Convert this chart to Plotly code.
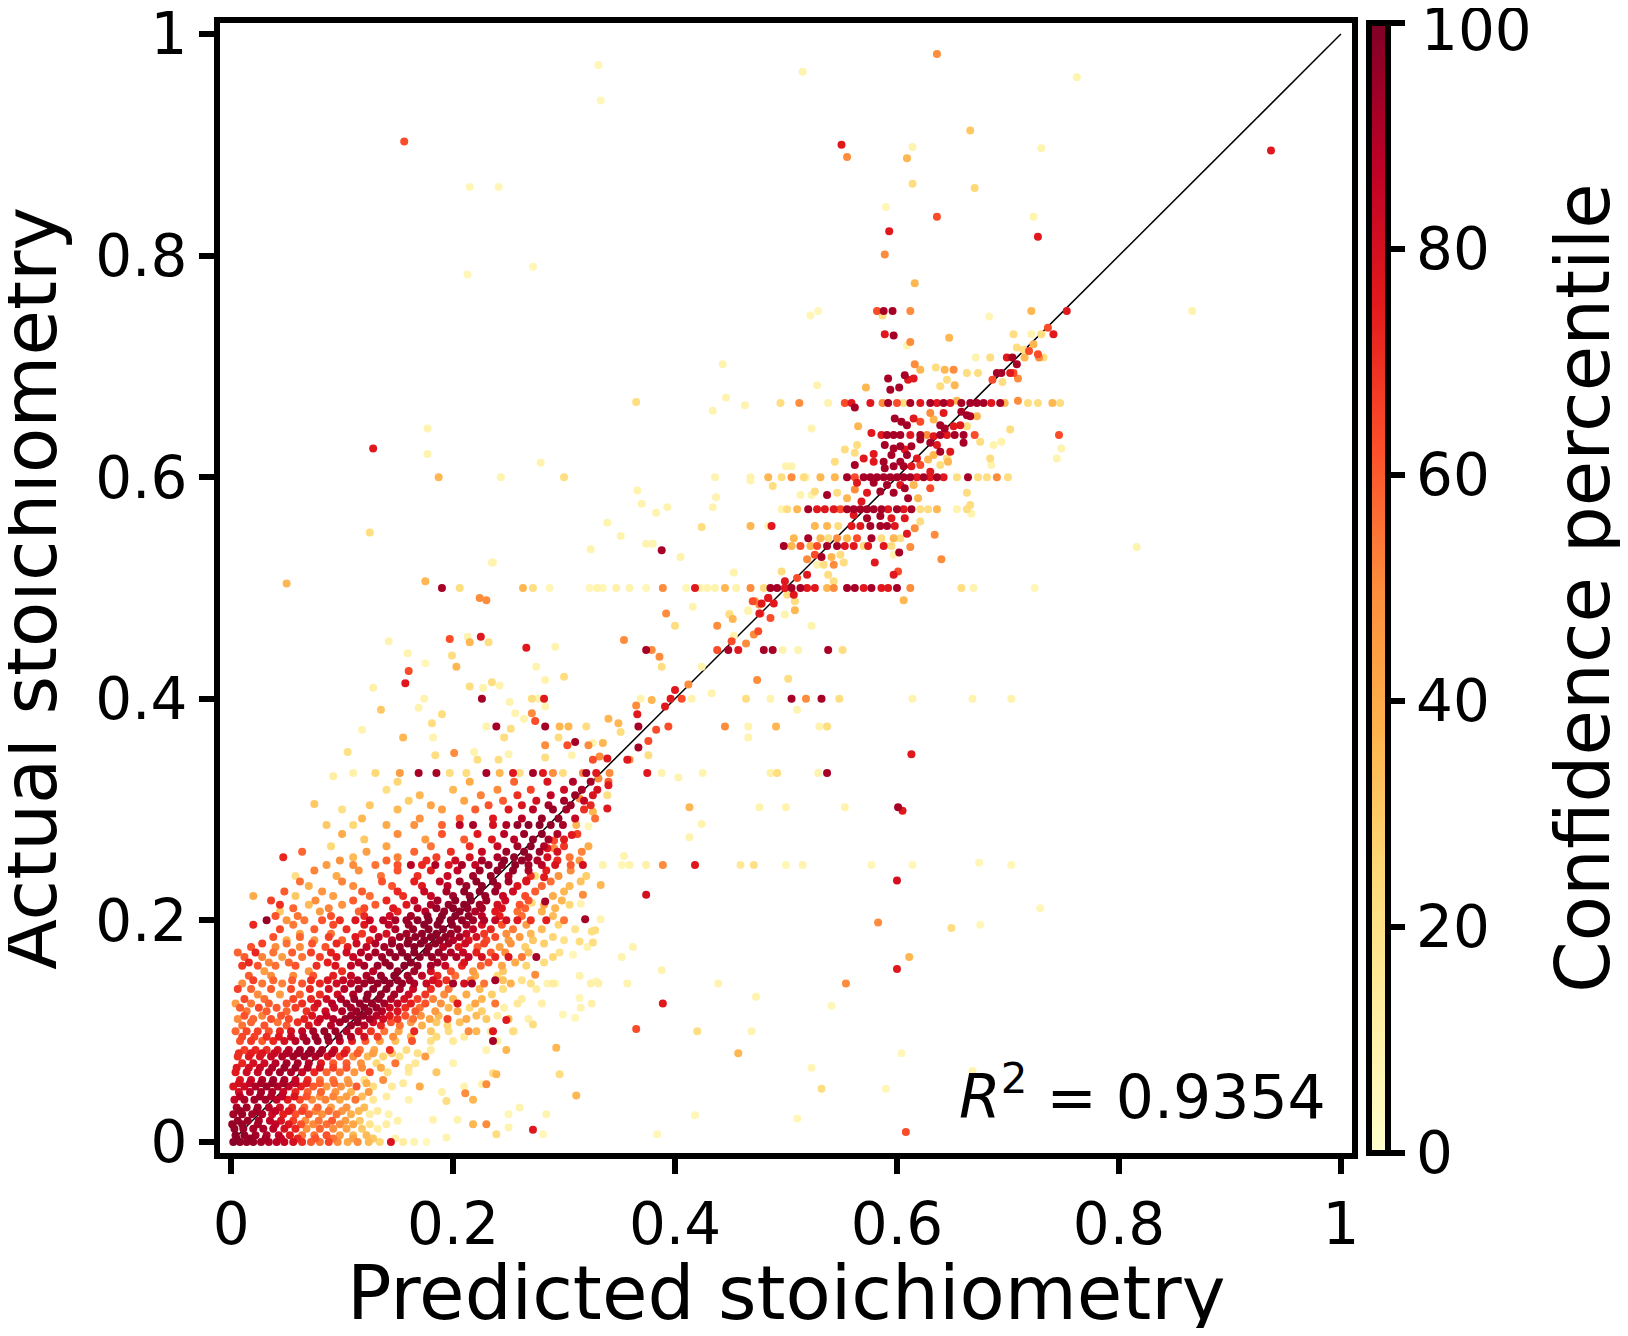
import numpy as np
import plotly.graph_objects as go

# Predicted vs actual stoichiometry, coloured by confidence percentile.
# Every point is (predicted, actual, confidence percentile).

# dense block at the origin, actual 0 - 0.1
origin_points = [
    (0.002,0,98),(0.008,0,96),(0.014,0,95),(0.020,0,94),(0.027,0,92),(0.034,0,90),(0.041,0,88),(0.048,0,85),(0.056,0,80),(0.064,0,70),(0.072,0,60),(0.080,0,55),(0.088,0,65),(0.096,0,50),(0.105,0,40),(0.114,0,50),(0.124,0,35),(0.134,0,25),(0.144,0,78),(0.155,0,12),(0.165,0,8),(0.176,0,5),
    (0.004,0.006,97),(0.012,0.006,95),(0.022,0.006,93),(0.032,0.006,90),(0.043,0.006,85),(0.053,0.006,75),(0.064,0.006,55),(0.075,0.006,55),(0.086,0.006,62),(0.098,0.006,45),(0.110,0.006,35),(0.122,0.006,35),
    (0.003,0.012,96),(0.011,0.012,94),(0.020,0.012,92),(0.029,0.012,91),(0.038,0.012,88),(0.048,0.012,80),(0.058,0.012,72),(0.068,0.012,48),(0.080,0.012,58),(0.092,0.012,50),(0.104,0.012,42),(0.118,0.012,30),(0.132,0.012,10),
    (0.006,0.019,95),(0.015,0.019,93),(0.025,0.019,90),(0.035,0.019,86),(0.045,0.019,78),(0.056,0.019,66),(0.067,0.019,50),(0.079,0.019,55),(0.091,0.019,60),(0.103,0.019,45),(0.116,0.019,30),(0.150,0.019,10),
    (0.002,0.025,93),(0.010,0.025,94),(0.019,0.025,92),(0.028,0.025,90),(0.037,0.025,82),(0.047,0.025,74),(0.058,0.025,62),(0.070,0.025,60),(0.082,0.025,48),(0.095,0.025,55),(0.108,0.025,38),(0.125,0.025,12),(0.142,0.025,8),
    (0.005,0.031,90),(0.014,0.031,93),(0.024,0.031,92),(0.034,0.031,88),(0.044,0.031,80),(0.055,0.031,70),(0.066,0.031,58),(0.078,0.031,58),(0.090,0.031,45),(0.104,0.031,48),(0.120,0.031,35),
    (0.003,0.038,85),(0.012,0.038,91),(0.021,0.038,93),(0.031,0.038,92),(0.041,0.038,86),(0.051,0.038,76),(0.062,0.038,64),(0.073,0.038,50),(0.085,0.038,52),(0.098,0.038,42),(0.112,0.038,55),(0.128,0.038,15),(0.160,0.038,8),
    (0.007,0.045,80),(0.017,0.045,88),(0.027,0.045,92),(0.037,0.045,90),(0.047,0.045,84),(0.058,0.045,72),(0.069,0.045,58),(0.081,0.045,58),(0.094,0.045,48),(0.108,0.045,36),(0.124,0.045,45),(0.190,0.045,10),
    (0.002,0.050,78),(0.012,0.050,82),(0.022,0.050,90),(0.032,0.050,93),(0.042,0.050,90),(0.052,0.050,86),(0.063,0.050,74),(0.074,0.050,60),(0.086,0.050,45),(0.099,0.050,48),(0.113,0.050,60),(0.128,0.050,22),(0.145,0.050,14),(0.170,0.050,40),(0.210,0.050,8),
    (0.008,0.056,76),(0.018,0.056,82),(0.028,0.056,88),(0.038,0.056,92),(0.048,0.056,90),(0.058,0.056,84),(0.069,0.056,70),(0.080,0.056,55),(0.092,0.056,55),(0.105,0.056,44),(0.120,0.056,18),(0.137,0.056,50),
    (0.004,0.063,75),(0.014,0.063,82),(0.024,0.063,84),(0.034,0.063,90),(0.044,0.063,93),(0.054,0.063,90),(0.064,0.063,84),(0.075,0.063,72),(0.086,0.063,58),(0.098,0.063,56),(0.111,0.063,46),(0.125,0.063,62),(0.141,0.063,20),(0.160,0.063,12),(0.185,0.063,30),
    (0.010,0.071,72),(0.020,0.071,80),(0.030,0.071,82),(0.040,0.071,88),(0.050,0.071,92),(0.060,0.071,92),(0.070,0.071,88),(0.081,0.071,76),(0.092,0.071,60),(0.104,0.071,60),(0.117,0.071,48),(0.131,0.071,24),(0.148,0.071,55),(0.166,0.071,15),(0.200,0.071,8),
    (0.006,0.077,70),(0.016,0.077,76),(0.026,0.077,78),(0.036,0.077,84),(0.046,0.077,90),(0.056,0.077,92),(0.066,0.077,93),(0.076,0.077,90),(0.087,0.077,80),(0.098,0.077,66),(0.110,0.077,50),(0.123,0.077,36),(0.137,0.077,26),(0.152,0.077,18),(0.175,0.077,45),
    (0.012,0.083,66),(0.022,0.083,72),(0.032,0.083,70),(0.042,0.083,80),(0.052,0.083,86),(0.062,0.083,92),(0.072,0.083,94),(0.082,0.083,92),(0.093,0.083,84),(0.104,0.083,70),(0.116,0.083,55),(0.129,0.083,40),(0.143,0.083,70),(0.158,0.083,22),(0.180,0.083,12),(0.230,0.083,8),
    (0.008,0.091,62),(0.018,0.091,68),(0.028,0.091,60),(0.038,0.091,72),(0.048,0.091,80),(0.058,0.091,88),(0.068,0.091,92),(0.078,0.091,95),(0.088,0.091,93),(0.098,0.091,86),(0.109,0.091,74),(0.121,0.091,60),(0.134,0.091,45),(0.148,0.091,32),(0.163,0.091,62),(0.180,0.091,20),(0.200,0.091,14),(0.240,0.091,10),
    (0.004,0.100,58),(0.014,0.100,64),(0.024,0.100,66),(0.034,0.100,62),(0.044,0.100,72),(0.054,0.100,80),(0.064,0.100,86),(0.074,0.100,92),(0.084,0.100,95),(0.094,0.100,94),(0.104,0.100,90),(0.115,0.100,80),(0.126,0.100,68),(0.138,0.100,55),(0.151,0.100,42),(0.165,0.100,72),(0.180,0.100,30),(0.196,0.100,22),(0.214,0.100,50),(0.234,0.100,14),(0.255,0.100,10),
]

# points sitting between the rows above
origin_fill_points = [
    (0.005,0.003,97),(0.017,0.003,95),(0.031,0.003,92),(0.045,0.003,86),(0.060,0.003,72),(0.076,0.003,62),(0.092,0.003,55),(0.110,0.003,44),(0.128,0.003,30),(0.148,0.003,10),
    (0.001,0.016,96),(0.010,0.016,95),(0.024,0.016,92),(0.040,0.016,86),(0.052,0.016,76),(0.063,0.016,62),(0.074,0.016,50),(0.086,0.016,56),(0.098,0.016,50),(0.110,0.016,42),(0.125,0.016,18),(0.140,0.016,12),
    (0.008,0.028,94),(0.023,0.028,93),(0.040,0.028,86),(0.052,0.028,76),(0.064,0.028,66),(0.076,0.028,52),(0.088,0.028,56),(0.100,0.028,46),(0.115,0.028,36),(0.132,0.028,14),
    (0.008,0.041,88),(0.026,0.041,92),(0.036,0.041,90),(0.046,0.041,86),(0.057,0.041,78),(0.068,0.041,62),(0.080,0.041,48),(0.092,0.041,52),(0.104,0.041,44),(0.118,0.041,34),(0.140,0.041,12),
    (0.007,0.053,80),(0.017,0.053,86),(0.027,0.053,92),(0.037,0.053,94),(0.047,0.053,92),(0.058,0.053,86),(0.068,0.053,74),(0.080,0.053,60),(0.093,0.053,58),(0.106,0.053,48),(0.122,0.053,38),(0.155,0.053,14),
    (0.005,0.067,76),(0.016,0.067,80),(0.026,0.067,84),(0.037,0.067,90),(0.048,0.067,94),(0.058,0.067,94),(0.069,0.067,90),(0.080,0.067,80),(0.092,0.067,66),(0.104,0.067,62),(0.118,0.067,50),(0.135,0.067,40),(0.160,0.067,16),
    (0.007,0.080,70),(0.018,0.080,74),(0.028,0.080,78),(0.039,0.080,84),(0.050,0.080,90),(0.060,0.080,94),(0.070,0.080,95),(0.080,0.080,94),(0.091,0.080,88),(0.102,0.080,76),(0.114,0.080,60),(0.128,0.080,44),(0.145,0.080,30),(0.168,0.080,20),
    (0.010,0.095,64),(0.021,0.095,66),(0.032,0.095,70),(0.043,0.095,76),(0.054,0.095,84),(0.065,0.095,90),(0.076,0.095,94),(0.087,0.095,96),(0.097,0.095,95),(0.108,0.095,90),(0.120,0.095,80),(0.132,0.095,66),(0.146,0.095,50),(0.162,0.095,36),(0.185,0.095,24),(0.210,0.095,14),
]

# main band along the diagonal, actual 0.1 - 0.34
band_points = [
    (0.010,0.105,55),(0.030,0.105,62),(0.050,0.105,60),(0.070,0.105,78),(0.090,0.105,88),(0.108,0.105,94),(0.120,0.105,88),(0.135,0.105,72),(0.152,0.105,55),(0.172,0.105,38),(0.195,0.105,25),
    (0.006,0.111,50),(0.020,0.111,58),(0.036,0.111,62),(0.052,0.111,64),(0.066,0.111,74),(0.080,0.111,84),(0.092,0.111,90),(0.103,0.111,95),(0.114,0.111,96),(0.125,0.111,92),(0.137,0.111,82),(0.150,0.111,70),(0.164,0.111,56),(0.179,0.111,42),(0.195,0.111,65),(0.212,0.111,40),(0.230,0.111,30),(0.250,0.111,35),(0.268,0.111,10),
    (0.014,0.118,55),(0.032,0.118,60),(0.050,0.118,58),(0.068,0.118,70),(0.085,0.118,82),(0.100,0.118,90),(0.113,0.118,94),(0.124,0.118,95),(0.136,0.118,90),(0.150,0.118,78),(0.166,0.118,60),(0.184,0.118,45),(0.204,0.118,40),(0.226,0.118,28),
    (0.004,0.125,45),(0.018,0.125,55),(0.034,0.125,60),(0.050,0.125,60),(0.064,0.125,70),(0.078,0.125,80),(0.091,0.125,88),(0.104,0.125,93),(0.116,0.125,96),(0.127,0.125,95),(0.138,0.125,92),(0.150,0.125,85),(0.162,0.125,74),(0.175,0.125,62),(0.189,0.125,48),(0.204,0.125,76),(0.220,0.125,42),(0.238,0.125,55),(0.258,0.125,15),(0.280,0.125,10),
    (0.024,0.133,50),(0.044,0.133,45),(0.062,0.133,58),(0.080,0.133,70),(0.096,0.133,82),(0.110,0.133,90),(0.123,0.133,95),(0.135,0.133,96),(0.147,0.133,92),(0.160,0.133,82),(0.175,0.133,68),(0.192,0.133,50),(0.212,0.133,40),(0.235,0.133,28),
    (0.010,0.143,50),(0.028,0.143,55),(0.046,0.143,52),(0.064,0.143,62),(0.080,0.143,72),(0.095,0.143,82),(0.108,0.143,88),(0.120,0.143,93),(0.132,0.143,96),(0.143,0.143,97),(0.154,0.143,95),(0.165,0.143,90),(0.176,0.143,84),(0.187,0.143,76),(0.200,0.143,92),(0.210,0.143,80),(0.217,0.143,92),(0.228,0.143,55),(0.238,0.146,92),(0.252,0.143,38),(0.270,0.143,20),(0.290,0.143,12),
    (0.016,0.150,60),(0.036,0.150,50),(0.056,0.150,50),(0.074,0.150,62),(0.092,0.150,74),(0.108,0.150,84),(0.122,0.150,90),(0.135,0.150,95),(0.147,0.150,97),(0.159,0.150,94),(0.172,0.150,86),(0.186,0.150,72),(0.202,0.150,56),(0.220,0.150,40),(0.240,0.150,25),
    (0.030,0.154,45),(0.070,0.154,48),(0.100,0.154,70),(0.128,0.154,88),(0.150,0.154,96),(0.165,0.154,93),(0.180,0.154,80),(0.198,0.154,62),(0.218,0.154,45),(0.245,0.154,30),
    (0.012,0.167,60),(0.028,0.167,52),(0.046,0.167,44),(0.064,0.167,55),(0.080,0.167,66),(0.095,0.167,76),(0.110,0.167,84),(0.124,0.167,90),(0.136,0.167,94),(0.148,0.167,96),(0.159,0.167,98),(0.170,0.167,97),(0.181,0.167,95),(0.192,0.167,92),(0.203,0.167,90),(0.214,0.167,86),(0.226,0.167,80),(0.238,0.167,72),(0.250,0.167,78),(0.262,0.167,55),(0.275,0.167,92),(0.290,0.167,25),
    (0.018,0.176,62),(0.040,0.176,50),(0.062,0.176,50),(0.085,0.176,62),(0.105,0.176,75),(0.122,0.176,85),(0.138,0.176,92),(0.152,0.176,96),(0.165,0.176,97),(0.178,0.176,95),(0.191,0.176,88),(0.205,0.176,76),(0.222,0.176,60),(0.242,0.176,44),(0.265,0.176,28),
    (0.050,0.182,40),(0.075,0.182,48),(0.100,0.182,58),(0.125,0.182,74),(0.145,0.182,88),(0.160,0.182,95),(0.174,0.182,97),(0.188,0.182,96),(0.200,0.182,90),(0.214,0.182,78),(0.230,0.182,64),(0.250,0.182,45),(0.272,0.182,30),(0.300,0.182,18),
    (0.062,0.188,42),(0.090,0.188,55),(0.118,0.188,68),(0.140,0.188,80),(0.158,0.188,92),(0.172,0.188,96),(0.185,0.188,97),(0.198,0.188,94),(0.212,0.188,84),(0.228,0.188,68),(0.248,0.188,50),(0.270,0.188,35),
    (0.032,0.200,95),(0.050,0.200,48),(0.066,0.200,55),(0.082,0.200,62),(0.098,0.200,70),(0.112,0.200,78),(0.125,0.200,84),(0.137,0.200,88),(0.148,0.200,92),(0.158,0.200,95),(0.168,0.200,97),(0.178,0.200,98),(0.188,0.200,98),(0.198,0.200,97),(0.208,0.200,96),(0.218,0.200,94),(0.228,0.200,90),(0.238,0.200,85),(0.248,0.200,80),(0.258,0.200,76),(0.270,0.200,70),(0.284,0.200,74),(0.300,0.200,55),
    (0.044,0.208,30),(0.080,0.208,45),(0.115,0.208,58),(0.150,0.208,72),(0.175,0.208,88),(0.192,0.208,96),(0.206,0.208,97),(0.220,0.208,90),(0.238,0.208,76),(0.258,0.208,56),(0.280,0.208,38),
    (0.044,0.214,70),(0.070,0.214,35),(0.100,0.214,48),(0.130,0.214,60),(0.158,0.214,76),(0.180,0.214,90),(0.196,0.214,95),(0.210,0.214,97),(0.224,0.214,93),(0.240,0.214,80),(0.260,0.214,62),(0.282,0.214,42),(0.305,0.214,25),
    (0.020,0.222,40),(0.058,0.222,30),(0.092,0.222,44),(0.125,0.222,56),(0.155,0.222,70),(0.180,0.222,84),(0.200,0.222,93),(0.215,0.222,97),(0.229,0.222,95),(0.245,0.222,84),(0.265,0.222,64),(0.290,0.222,40),
    (0.070,0.231,38),(0.110,0.231,50),(0.145,0.231,62),(0.172,0.231,76),(0.195,0.231,88),(0.212,0.231,94),(0.226,0.231,97),(0.240,0.231,92),(0.258,0.231,78),(0.280,0.231,58),(0.305,0.231,35),
    (0.058,0.240,20),(0.095,0.240,40),(0.135,0.240,55),(0.168,0.240,70),(0.195,0.240,84),(0.218,0.240,93),(0.234,0.240,96),(0.250,0.240,90),(0.270,0.240,70),(0.295,0.240,48),(0.320,0.240,28),
    (0.086,0.250,45),(0.110,0.250,50),(0.130,0.250,55),(0.150,0.250,62),(0.162,0.250,88),(0.172,0.250,72),(0.184,0.250,90),(0.196,0.250,78),(0.208,0.250,92),(0.220,0.250,85),(0.232,0.250,94),(0.244,0.250,96),(0.256,0.250,97),(0.268,0.250,92),(0.280,0.250,88),(0.292,0.250,78),(0.306,0.250,60),(0.317,0.250,80),
    (0.335,0.250,8),(0.352,0.250,6),(0.359,0.250,8),(0.374,0.250,10),(0.389,0.250,50),(0.418,0.250,76),(0.459,0.250,15),(0.471,0.250,20),(0.500,0.250,6),(0.515,0.250,8),
    (0.047,0.257,72),(0.110,0.257,35),(0.150,0.257,52),(0.185,0.257,66),(0.215,0.257,80),(0.240,0.257,90),(0.255,0.257,96),(0.268,0.257,94),(0.285,0.257,80),(0.305,0.257,55),
    (0.090,0.267,25),(0.140,0.267,42),(0.180,0.267,55),(0.215,0.267,70),(0.240,0.267,84),(0.258,0.267,93),(0.270,0.267,97),(0.282,0.267,90),(0.300,0.267,68),(0.322,0.267,40),
    (0.120,0.273,30),(0.175,0.273,45),(0.210,0.273,60),(0.235,0.273,76),(0.255,0.273,88),(0.272,0.273,96),(0.286,0.273,92),(0.300,0.273,75),
    (0.086,0.286,30),(0.110,0.286,25),(0.140,0.286,40),(0.165,0.286,48),(0.190,0.286,58),(0.206,0.286,88),(0.218,0.286,92),(0.236,0.286,80),(0.248,0.286,90),(0.258,0.286,95),(0.268,0.286,97),(0.278,0.286,98),(0.288,0.286,96),(0.299,0.286,92),(0.311,0.286,36),(0.322,0.285,6),
    (0.100,0.300,20),(0.150,0.300,35),(0.190,0.300,45),(0.220,0.300,60),(0.250,0.300,76),(0.272,0.300,88),(0.290,0.300,95),(0.302,0.300,92),(0.318,0.300,70),
    (0.160,0.308,28),(0.210,0.308,42),(0.245,0.308,60),(0.275,0.308,80),(0.300,0.308,93),(0.318,0.308,85),
    (0.140,0.318,20),(0.200,0.318,35),(0.240,0.318,50),(0.270,0.318,65),(0.300,0.318,82),(0.316,0.318,92),(0.330,0.318,80),
    (0.110,0.333,10),(0.130,0.333,25),(0.152,0.333,45),(0.169,0.333,92),(0.185,0.333,92),(0.197,0.333,22),(0.212,0.333,22),(0.230,0.333,92),(0.242,0.333,36),(0.254,0.333,76),(0.260,0.333,22),(0.272,0.333,92),(0.281,0.333,76),(0.290,0.333,50),(0.299,0.333,22),(0.317,0.333,50),(0.320,0.333,92),(0.329,0.333,76),(0.341,0.333,50),(0.375,0.333,76),(0.388,0.333,8),(0.425,0.333,8),(0.486,0.333,10),(0.492,0.333,22),(0.529,0.333,8),(0.537,0.333,92),
]

# points sitting between the band rows
band_fill_points = [
    (0.018,0.108,58),(0.042,0.108,55),(0.060,0.108,70),(0.078,0.108,80),(0.098,0.108,92),(0.114,0.108,95),(0.128,0.108,82),(0.144,0.108,62),(0.162,0.108,45),(0.185,0.108,30),(0.206,0.108,32),
    (0.012,0.114,62),(0.028,0.114,52),(0.045,0.114,62),(0.073,0.114,78),(0.086,0.114,86),(0.108,0.114,94),(0.119,0.114,96),(0.131,0.114,88),(0.143,0.114,76),(0.157,0.114,62),(0.171,0.114,48),(0.187,0.114,35),(0.221,0.114,34),(0.240,0.114,12),
    (0.008,0.121,60),(0.025,0.121,64),(0.041,0.121,60),(0.058,0.121,66),(0.075,0.121,76),(0.093,0.121,86),(0.108,0.121,93),(0.120,0.121,96),(0.131,0.121,94),(0.143,0.121,84),(0.157,0.121,70),(0.170,0.121,55),(0.196,0.121,36),(0.215,0.121,24),(0.246,0.121,10),
    (0.012,0.129,64),(0.030,0.129,56),(0.056,0.129,64),(0.072,0.129,72),(0.086,0.129,82),(0.099,0.129,90),(0.111,0.129,95),(0.122,0.129,96),(0.133,0.129,95),(0.144,0.129,90),(0.156,0.129,80),(0.168,0.129,66),(0.182,0.129,52),(0.200,0.129,38),(0.226,0.129,36),(0.262,0.129,12),
    (0.006,0.138,66),(0.018,0.138,58),(0.036,0.138,60),(0.054,0.138,64),(0.071,0.138,72),(0.088,0.138,80),(0.102,0.138,88),(0.115,0.138,93),(0.128,0.138,96),(0.140,0.138,96),(0.152,0.138,92),(0.164,0.138,84),(0.180,0.138,70),(0.196,0.138,55),(0.224,0.138,36),(0.245,0.138,22),(0.275,0.138,12),
    (0.020,0.146,66),(0.038,0.146,58),(0.055,0.146,60),(0.072,0.146,70),(0.087,0.146,78),(0.101,0.146,85),(0.114,0.146,91),(0.126,0.146,95),(0.138,0.146,97),(0.150,0.146,96),(0.161,0.146,92),(0.182,0.146,80),(0.194,0.146,70),(0.216,0.146,50),(0.245,0.146,32),(0.262,0.146,18),
    (0.010,0.159,68),(0.024,0.159,62),(0.040,0.159,56),(0.058,0.159,62),(0.077,0.159,70),(0.094,0.159,78),(0.108,0.159,86),(0.120,0.159,92),(0.132,0.159,95),(0.143,0.159,97),(0.156,0.159,98),(0.168,0.159,96),(0.180,0.159,92),(0.193,0.159,84),(0.208,0.159,72),(0.225,0.159,58),(0.244,0.159,42),(0.266,0.159,26),
    (0.016,0.162,72),(0.034,0.162,52),(0.052,0.162,58),(0.087,0.162,74),(0.115,0.162,88),(0.139,0.162,96),(0.162,0.162,98),(0.186,0.162,92),(0.210,0.162,78),(0.232,0.162,62),(0.256,0.162,40),(0.282,0.162,22),
    (0.006,0.171,58),(0.022,0.171,72),(0.038,0.171,55),(0.055,0.171,60),(0.072,0.171,66),(0.090,0.171,74),(0.104,0.171,82),(0.117,0.171,88),(0.130,0.171,92),(0.143,0.171,95),(0.154,0.171,97),(0.165,0.171,98),(0.176,0.171,97),(0.187,0.171,95),(0.198,0.171,90),(0.209,0.171,84),(0.221,0.171,74),(0.234,0.171,62),(0.247,0.171,50),(0.268,0.171,34),(0.296,0.171,18),
    (0.028,0.179,66),(0.050,0.179,56),(0.073,0.179,62),(0.095,0.179,72),(0.113,0.179,82),(0.130,0.179,90),(0.145,0.179,95),(0.159,0.179,97),(0.171,0.179,98),(0.184,0.179,97),(0.196,0.179,92),(0.211,0.179,82),(0.228,0.179,66),(0.252,0.179,48),(0.282,0.179,28),
    (0.038,0.185,62),(0.062,0.185,58),(0.088,0.185,66),(0.112,0.185,76),(0.133,0.185,86),(0.152,0.185,94),(0.166,0.185,97),(0.180,0.185,98),(0.193,0.185,97),(0.206,0.185,92),(0.221,0.185,80),(0.238,0.185,64),(0.260,0.185,46),(0.290,0.185,26),
    (0.044,0.192,64),(0.075,0.192,60),(0.104,0.192,70),(0.128,0.192,80),(0.148,0.192,90),(0.164,0.192,95),(0.178,0.192,98),(0.191,0.192,98),(0.204,0.192,95),(0.218,0.192,86),(0.234,0.192,72),(0.254,0.192,54),(0.280,0.192,34),(0.310,0.192,18),
    (0.020,0.196,72),(0.056,0.196,54),(0.092,0.196,64),(0.120,0.196,76),(0.142,0.196,86),(0.160,0.196,94),(0.174,0.196,97),(0.186,0.196,98),(0.199,0.196,97),(0.212,0.196,92),(0.226,0.196,80),(0.244,0.196,62),(0.266,0.196,44),(0.295,0.196,26),
    (0.040,0.204,62),(0.060,0.204,55),(0.090,0.204,62),(0.120,0.204,72),(0.143,0.204,82),(0.162,0.204,92),(0.177,0.204,96),(0.190,0.204,98),(0.202,0.204,98),(0.214,0.204,95),(0.226,0.204,88),(0.242,0.204,74),(0.262,0.204,56),(0.290,0.204,34),
    (0.056,0.211,58),(0.088,0.211,52),(0.120,0.211,64),(0.146,0.211,76),(0.168,0.211,88),(0.185,0.211,95),(0.200,0.211,98),(0.213,0.211,97),(0.226,0.211,92),(0.244,0.211,78),(0.265,0.211,58),(0.292,0.211,36),
    (0.036,0.218,66),(0.076,0.218,50),(0.110,0.218,60),(0.140,0.218,72),(0.165,0.218,84),(0.186,0.218,93),(0.202,0.218,97),(0.216,0.218,98),(0.230,0.218,94),(0.247,0.218,82),(0.268,0.218,62),(0.298,0.218,36),
    (0.048,0.226,60),(0.082,0.226,48),(0.118,0.226,60),(0.150,0.226,72),(0.174,0.226,84),(0.194,0.226,92),(0.210,0.226,97),(0.224,0.226,98),(0.238,0.226,94),(0.254,0.226,82),(0.274,0.226,60),(0.300,0.226,36),
    (0.062,0.235,56),(0.100,0.235,52),(0.136,0.235,62),(0.165,0.235,74),(0.188,0.235,86),(0.206,0.235,93),(0.221,0.235,97),(0.236,0.235,97),(0.250,0.235,92),(0.266,0.235,78),(0.288,0.235,56),(0.315,0.235,32),
    (0.075,0.245,52),(0.115,0.245,48),(0.150,0.245,62),(0.180,0.245,74),(0.204,0.245,86),(0.224,0.245,94),(0.240,0.245,97),(0.254,0.245,96),(0.268,0.245,90),(0.284,0.245,74),(0.306,0.245,50),
    (0.098,0.254,48),(0.140,0.254,58),(0.176,0.254,70),(0.202,0.254,82),(0.226,0.254,92),(0.246,0.254,97),(0.262,0.254,96),(0.276,0.254,90),(0.294,0.254,72),(0.314,0.254,46),
    (0.064,0.262,58),(0.122,0.262,44),(0.165,0.262,58),(0.198,0.262,70),(0.226,0.262,84),(0.248,0.262,93),(0.264,0.262,97),(0.278,0.262,94),(0.294,0.262,80),(0.316,0.262,52),
    (0.100,0.278,40),(0.150,0.278,50),(0.190,0.278,62),(0.222,0.278,76),(0.246,0.278,88),(0.264,0.278,95),(0.280,0.278,97),(0.294,0.278,90),(0.312,0.278,66),
    (0.118,0.292,36),(0.170,0.292,48),(0.206,0.292,60),(0.236,0.292,76),(0.262,0.292,88),(0.280,0.292,95),(0.295,0.292,96),(0.310,0.292,84),(0.328,0.292,56),
    (0.125,0.304,30),(0.180,0.304,42),(0.232,0.304,62),(0.262,0.304,78),(0.286,0.304,92),(0.306,0.304,94),(0.324,0.304,72),
    (0.170,0.313,36),(0.225,0.313,52),(0.258,0.313,70),(0.288,0.313,86),(0.310,0.313,95),(0.326,0.313,78),
    (0.150,0.325,26),(0.215,0.325,40),(0.255,0.325,58),(0.285,0.325,78),(0.308,0.325,90),(0.324,0.325,92),(0.340,0.325,60),
]

# loose points round the lower end of the band
fringe_points = [
    (0.272,0.011,76),(0.281,0.007,6),(0.239,0.007,22),(0.250,0.013,8),(0.230,0.016,50),(0.218,0.016,36),(0.204,0.020,8),(0.194,0.004,8),(0.182,0.020,8),
    (0.311,0.042,36),(0.296,0.061,22),(0.250,0.025,6),(0.260,0.031,8),(0.284,0.025,8),(0.239,0.061,36),(0.226,0.052,8),(0.218,0.038,36),(0.211,0.044,50),(0.194,0.037,22),(0.236,0.062,22),(0.230,0.052,50),
    (0.248,0.083,36),(0.236,0.091,92),(0.236,0.100,76),(0.221,0.100,36),(0.254,0.100,22),(0.248,0.110,76),(0.272,0.106,22),(0.293,0.085,36),(0.310,0.112,6),(0.299,0.115,6),(0.314,0.130,6),(0.329,0.145,6),
    (0.292,0.143,6),(0.274,0.151,50),(0.285,0.143,8),(0.308,0.169,6),(0.326,0.180,22),(0.314,0.181,22),(0.325,0.190,22),
    (0.075,0.305,30),(0.092,0.330,12),(0.105,0.352,20),(0.118,0.372,8),(0.135,0.390,30),(0.128,0.410,10),(0.142,0.452,8),
]

# between the two clusters, actual 0.2 - 0.53
middle_points = [
    (0.190,0.5,92),(0.206,0.5,22),(0.263,0.5,36),(0.272,0.5,22),(0.287,0.5,6),(0.323,0.5,6),(0.330,0.5,8),(0.335,0.5,6),(0.347,0.5,10),(0.359,0.5,8),(0.374,0.5,6),(0.389,0.5,50),(0.410,0.5,6),(0.418,0.5,76),
    (0.175,0.506,36),(0.236,0.523,6),(0.224,0.491,50),(0.230,0.489,50),
    (0.197,0.454,63),(0.215,0.451,36),(0.225,0.456,76),(0.232,0.451,22),(0.213,0.456,8),(0.266,0.446,76),(0.292,0.447,8),
    (0.159,0.441,8),(0.199,0.439,22),(0.203,0.429,36),(0.175,0.432,6),(0.160,0.425,63),(0.157,0.414,76),
    (0.275,0.429,8),(0.300,0.420,22),(0.283,0.417,8),(0.215,0.411,22),(0.227,0.410,8),(0.235,0.415,22),(0.242,0.412,8),
    (0.226,0.400,92),(0.282,0.400,76),(0.271,0.400,22),(0.277,0.400,8),(0.174,0.400,8),(0.169,0.392,8),(0.251,0.397,8),(0.283,0.393,8),
    (0.190,0.386,22),(0.181,0.378,22),(0.239,0.375,92),(0.230,0.375,8),(0.271,0.387,50),(0.274,0.380,63),(0.283,0.375,92),(0.296,0.375,36),(0.304,0.375,36),(0.256,0.387,8),(0.264,0.382,8),
    (0.155,0.365,36),(0.182,0.365,8),(0.252,0.373,22),(0.246,0.365,22),
    (0.201,0.351,50),(0.184,0.349,22),(0.219,0.352,8),(0.222,0.345,22),(0.241,0.345,22),(0.250,0.350,8),
    (0.283,0.358,50),(0.283,0.347,22),(0.295,0.365,22),(0.303,0.358,63),(0.307,0.349,8),(0.310,0.361,92),
    (0.320,0.375,22),(0.326,0.360,8),(0.335,0.360,36),(0.322,0.358,50),(0.340,0.382,36),
    (0.326,0.345,63),(0.332,0.348,50),(0.339,0.346,76),(0.357,0.345,76),(0.359,0.345,50),
    (0.340,0.322,76),(0.331,0.328,50),(0.339,0.313,22),(0.314,0.310,50),(0.326,0.298,36),(0.339,0.301,76),
    (0.349,0.378,36),(0.351,0.370,22),(0.367,0.375,92),(0.367,0.356,92),(0.366,0.386,76),(0.365,0.394,50),(0.376,0.362,63),(0.383,0.372,63),(0.376,0.349,22),(0.379,0.399,36),(0.369,0.400,8),
    (0.391,0.393,76),(0.394,0.375,63),(0.396,0.400,76),(0.400,0.408,76),(0.406,0.400,63),(0.412,0.413,50),(0.415,0.400,8),
    (0.388,0.429,22),(0.386,0.438,50),(0.374,0.444,92),(0.379,0.444,50),(0.354,0.453,50),(0.392,0.477,50),(0.400,0.466,22),
    (0.416,0.483,8),(0.424,0.429,8),(0.433,0.405,8),
    (0.438,0.466,50),(0.448,0.444,92),(0.438,0.444,63),(0.457,0.444,76),(0.464,0.450,50),(0.451,0.452,63),(0.453,0.457,8),(0.449,0.476,22),(0.452,0.472,36),(0.466,0.480,8),
    (0.474,0.417,50),(0.464,0.400,22),
    (0.470,0.488,63),(0.476,0.485,50),(0.477,0.477,63),(0.484,0.491,76),(0.489,0.486,76),(0.486,0.473,63),(0.475,0.461,63),(0.471,0.458,50),
    (0.480,0.444,92),(0.488,0.444,92),(0.497,0.444,8),(0.511,0.444,8),(0.538,0.444,92),(0.551,0.444,22),
    (0.499,0.476,8),(0.508,0.480,36),(0.523,0.466,8),
    (0.505,0.400,92),(0.518,0.400,50),(0.532,0.400,92),(0.486,0.400,8),(0.548,0.400,22),(0.502,0.418,22),(0.510,0.390,8),
    (0.445,0.375,50),(0.466,0.375,8),(0.491,0.375,36),(0.530,0.375,8),(0.537,0.375,22),(0.466,0.365,8),(0.403,0.329,8),
    (0.413,0.302,36),(0.476,0.302,8),(0.500,0.302,8),(0.553,0.302,8),(0.424,0.287,8),(0.413,0.275,8),(0.354,0.258,8),
    (0.283,0.217,92),(0.271,0.216,22),(0.282,0.239,76),(0.266,0.236,76),(0.274,0.240,22),
    (0.307,0.277,76),(0.291,0.272,63),(0.291,0.265,50),(0.285,0.265,76),
]

# upper cluster, actual 0.5 - 0.75
upper_points = [
    (0.582,0.75,63),(0.588,0.75,92),(0.596,0.75,92),(0.612,0.75,50),(0.587,0.746,22),(0.522,0.746,6),(0.529,0.75,6),(0.683,0.745,6),(0.721,0.75,36),(0.753,0.75,76),
    (0.589,0.729,76),(0.597,0.728,92),(0.612,0.722,50),(0.609,0.719,8),(0.647,0.726,36),
    (0.736,0.735,63),(0.741,0.729,76),(0.705,0.729,22),(0.721,0.729,8),(0.730,0.729,22),
    (0.723,0.720,36),(0.714,0.715,22),(0.719,0.714,63),(0.727,0.711,63),(0.728,0.708,50),(0.732,0.708,22),(0.708,0.717,22),
    (0.699,0.708,76),(0.704,0.708,92),(0.708,0.702,92),(0.715,0.708,36),(0.671,0.708,8),(0.684,0.708,22),(0.616,0.702,50),
    (0.635,0.699,22),(0.643,0.697,36),(0.651,0.697,50),(0.621,0.697,36),(0.663,0.694,22),(0.673,0.694,22),(0.686,0.688,63),(0.690,0.694,92),(0.694,0.694,92),(0.702,0.694,76),(0.705,0.694,63),(0.709,0.689,50),(0.695,0.686,22),
    (0.592,0.689,92),(0.607,0.692,92),(0.610,0.688,76),(0.615,0.689,76),(0.594,0.679,92),(0.602,0.681,92),
    (0.639,0.682,22),(0.645,0.688,22),(0.652,0.683,36),(0.572,0.681,36),(0.528,0.683,8),
    (0.443,0.702,8),(0.446,0.672,8),(0.463,0.665,8),(0.434,0.660,8),
    (0.495,0.667,22),(0.512,0.667,50),(0.538,0.667,8),(0.553,0.667,63),(0.559,0.667,76),(0.562,0.663,92),(0.576,0.667,76),(0.587,0.667,50),(0.592,0.667,92),(0.600,0.667,63),(0.606,0.667,22),(0.612,0.667,92),(0.621,0.667,76),(0.630,0.667,92),(0.636,0.667,76),(0.642,0.667,92),(0.648,0.667,76),(0.654,0.669,36),(0.658,0.667,92),(0.666,0.667,92),(0.672,0.667,92),(0.678,0.667,92),(0.685,0.667,76),(0.693,0.667,92),(0.697,0.667,36),(0.709,0.669,50),(0.718,0.667,22),(0.727,0.667,22),(0.740,0.667,36),(0.747,0.667,22),
    (0.746,0.638,63),(0.748,0.626,8),(0.744,0.617,8),
    (0.598,0.653,92),(0.604,0.650,92),(0.609,0.647,92),(0.615,0.653,76),(0.621,0.650,63),(0.630,0.658,50),(0.633,0.652,36),(0.639,0.647,92),(0.643,0.644,92),(0.642,0.658,76),(0.651,0.646,76),(0.658,0.659,92),(0.663,0.656,92),(0.666,0.655,92),(0.672,0.655,36),(0.657,0.647,76),(0.652,0.638,92),(0.660,0.638,92),(0.663,0.646,22),(0.670,0.638,63),(0.660,0.631,92),(0.675,0.632,22),(0.684,0.617,22),(0.687,0.629,8),(0.694,0.632,8),(0.702,0.643,22),(0.685,0.611,8),
    (0.565,0.646,36),(0.577,0.640,76),(0.586,0.638,76),(0.591,0.638,92),(0.597,0.638,92),(0.603,0.638,92),(0.612,0.638,76),(0.621,0.638,92),(0.627,0.638,50),(0.633,0.637,76),(0.645,0.638,76),(0.639,0.638,92),
    (0.564,0.629,22),(0.589,0.629,92),(0.597,0.626,92),(0.603,0.628,92),(0.607,0.625,76),(0.613,0.628,92),(0.621,0.634,92),(0.630,0.631,92),(0.636,0.629,76),(0.639,0.623,92),(0.648,0.623,76),
    (0.553,0.625,22),(0.562,0.622,22),(0.570,0.617,76),(0.579,0.621,76),(0.588,0.614,92),(0.595,0.620,92),(0.603,0.614,92),(0.609,0.620,92),(0.618,0.617,76),(0.628,0.616,36),(0.633,0.620,36),(0.646,0.614,36),
    (0.544,0.614,22),(0.562,0.611,92),(0.579,0.614,76),(0.589,0.608,92),(0.597,0.610,92),(0.606,0.610,92),(0.613,0.610,76),(0.621,0.611,63),(0.630,0.605,76),(0.645,0.617,22),(0.639,0.611,22),
    (0.500,0.610,8),(0.505,0.610,8),
    (0.436,0.6,8),(0.468,0.6,8),(0.484,0.6,36),(0.496,0.6,22),(0.505,0.6,50),(0.516,0.6,22),(0.531,0.6,36),(0.544,0.6,36),(0.555,0.6,92),(0.562,0.6,63),(0.570,0.6,92),(0.576,0.6,92),(0.582,0.6,92),(0.588,0.6,92),(0.594,0.6,92),(0.600,0.6,92),(0.606,0.6,92),(0.612,0.6,92),(0.618,0.6,76),(0.624,0.6,92),(0.630,0.6,76),(0.636,0.6,92),(0.642,0.6,76),(0.654,0.6,22),(0.664,0.6,92),(0.673,0.6,22),(0.681,0.6,22),(0.690,0.6,50),(0.700,0.6,22),
    (0.468,0.597,8),
    (0.564,0.595,76),(0.579,0.595,92),(0.591,0.593,92),(0.603,0.593,76),(0.615,0.593,36),(0.630,0.590,63),(0.573,0.586,76),(0.585,0.587,92),(0.597,0.586,92),(0.610,0.581,92),(0.619,0.581,36),(0.607,0.590,92),
    (0.537,0.584,92),(0.546,0.586,22),(0.555,0.581,36),(0.562,0.589,50),(0.568,0.578,76),
    (0.526,0.587,22),(0.513,0.584,8),(0.488,0.592,22),(0.437,0.582,8),(0.434,0.573,8),
    (0.663,0.586,22),(0.666,0.575,22),(0.667,0.567,8),
    (0.496,0.571,8),(0.501,0.571,22),(0.510,0.571,36),(0.520,0.571,92),(0.528,0.571,76),(0.535,0.571,76),(0.543,0.571,76),(0.549,0.571,63),(0.555,0.571,92),(0.561,0.571,92),(0.567,0.571,92),(0.573,0.571,92),(0.579,0.571,92),(0.586,0.571,92),(0.592,0.571,76),(0.600,0.571,92),(0.606,0.571,76),(0.613,0.571,92),(0.621,0.571,22),(0.628,0.571,22),(0.636,0.571,36),(0.654,0.571,8),(0.663,0.571,22),
    (0.468,0.556,36),(0.484,0.556,8),(0.487,0.556,76),(0.526,0.556,36),(0.537,0.556,36),(0.547,0.556,22),(0.559,0.556,76),(0.567,0.556,76),(0.576,0.556,92),(0.585,0.556,92),(0.591,0.556,92),(0.598,0.556,76),(0.607,0.563,76),(0.616,0.554,50),(0.621,0.560,22),
    (0.561,0.566,76),(0.573,0.563,92),(0.585,0.565,92),(0.595,0.563,76),
    (0.507,0.545,36),(0.520,0.545,92),(0.531,0.545,36),(0.538,0.545,22),(0.546,0.545,50),(0.555,0.545,36),(0.564,0.545,63),(0.577,0.545,92),(0.586,0.545,22),(0.597,0.545,36),(0.603,0.545,22),(0.609,0.549,76),(0.634,0.548,50),
    (0.498,0.538,92),(0.505,0.538,36),(0.513,0.538,63),(0.522,0.538,36),(0.528,0.538,63),(0.537,0.538,92),(0.546,0.538,92),(0.553,0.538,76),(0.561,0.538,76),(0.570,0.538,22),(0.574,0.538,76),(0.588,0.538,76),(0.595,0.538,22),
    (0.526,0.530,63),(0.532,0.528,92),(0.541,0.528,36),(0.549,0.530,22),(0.552,0.523,22),(0.543,0.521,50),(0.534,0.521,22),(0.519,0.526,50),(0.528,0.521,8),
    (0.580,0.523,76),(0.597,0.512,76),(0.602,0.532,92),(0.601,0.515,63),(0.597,0.530,8),(0.612,0.537,50),(0.640,0.526,50),
    (0.519,0.512,76),(0.510,0.509,63),(0.538,0.512,22),(0.543,0.506,22),(0.496,0.515,22),(0.453,0.514,8),
    (0.4225,0.5,8),(0.429,0.5,8),(0.436,0.5,8),(0.445,0.5,36),(0.455,0.5,8),(0.468,0.5,50),(0.480,0.5,22),(0.486,0.5,92),(0.492,0.5,92),(0.499,0.5,76),(0.505,0.5,92),(0.513,0.5,92),(0.519,0.5,76),(0.526,0.5,76),(0.537,0.5,36),(0.543,0.5,50),(0.555,0.5,92),(0.562,0.5,92),(0.570,0.5,76),(0.577,0.5,92),(0.586,0.5,76),(0.592,0.5,76),(0.600,0.5,92),(0.612,0.5,50),(0.658,0.5,22),(0.669,0.5,8),(0.724,0.5,6),
    (0.499,0.506,76),(0.507,0.494,76),(0.484,0.491,76),(0.478,0.486,76),(0.472,0.488,50),(0.476,0.477,76),(0.466,0.479,8),(0.449,0.477,8),(0.508,0.488,22),(0.501,0.494,22),(0.606,0.489,36),
]

# scattered points away from the diagonal
stray_points = [
    (0.550,0.900,76),(0.555,0.889,50),(0.614,0.898,8),(0.609,0.888,36),(0.636,0.982,50),(0.762,0.961,8),(0.515,0.966,8),(0.666,0.913,30),(0.730,0.897,8),(0.614,0.865,22),(0.670,0.861,25),(0.590,0.844,6),(0.636,0.835,63),(0.723,0.835,8),(0.593,0.822,76),(0.727,0.817,76),(0.589,0.801,50),(0.616,0.775,36),
    (0.331,0.972,6),(0.333,0.940,6),(0.156,0.903,63),(0.215,0.862,6),(0.241,0.862,6),(0.213,0.783,6),(0.272,0.790,6),(0.937,0.895,76),(0.866,0.750,8),(0.816,0.537,8),
    (0.365,0.668,22),(0.523,0.644,8),(0.177,0.644,8),(0.177,0.621,8),(0.128,0.626,76),(0.279,0.613,8),(0.187,0.600,36),(0.243,0.600,8),(0.300,0.600,22),(0.518,0.600,8),
    (0.366,0.588,8),(0.370,0.576,8),(0.523,0.584,8),(0.393,0.573,8),(0.383,0.568,8),(0.339,0.559,8),(0.424,0.555,22),(0.351,0.547,8),(0.374,0.540,8),(0.380,0.540,8),(0.388,0.534,92),(0.324,0.535,8),(0.405,0.528,8),
    (0.125,0.550,22),(0.235,0.523,8),(0.050,0.504,36),
    (0.614,0.400,8),(0.668,0.400,8),(0.703,0.400,8),(0.613,0.350,76),(0.601,0.302,92),(0.605,0.299,76),
    (0.577,0.250,6),(0.614,0.250,6),(0.674,0.252,6),(0.703,0.250,6),
    (0.333,0.232,36),(0.317,0.223,50),(0.374,0.223,80),(0.315,0.215,8),(0.319,0.201,92),(0.333,0.201,8),(0.328,0.191,22),(0.321,0.176,8),(0.362,0.176,8),(0.352,0.167,8),(0.388,0.155,8),
    (0.324,0.143,10),(0.331,0.143,10),(0.357,0.143,8),(0.439,0.143,8),(0.314,0.150,8),(0.473,0.131,8),(0.325,0.125,10),(0.315,0.121,8),(0.389,0.125,76),(0.365,0.102,63),(0.420,0.100,22),(0.469,0.100,8),
    (0.457,0.080,36),(0.523,0.067,6),(0.532,0.048,22),(0.590,0.048,6),(0.604,0.080,6),(0.418,0.024,6),(0.510,0.021,6),(0.384,0.007,6),(0.608,0.009,63),
    (0.600,0.236,80),(0.583,0.198,50),(0.600,0.156,76),(0.611,0.167,36),(0.554,0.143,50),(0.541,0.123,6),(0.649,0.193,22),(0.675,0.196,6),(0.729,0.211,6),(0.668,0.064,8),
]

tick_vals = [0, 0.2, 0.4, 0.6, 0.8, 1]
tick_text = ["0", "0.2", "0.4", "0.6", "0.8", "1"]
cbar_vals = [0, 20, 40, 60, 80, 100]
cbar_text = ["0", "20", "40", "60", "80", ""]  # "100" is drawn as an annotation so it is not clipped
r_squared = 0.9354

# matplotlib YlOrRd
ylorrd = ["#ffffcc", "#ffeda0", "#fed976", "#feb24c", "#fd8d3c",
          "#fc4e2a", "#e31a1c", "#bd0026", "#800026"]
colorscale = [[i / 8, c] for i, c in enumerate(ylorrd)]

all_points = (origin_points + origin_fill_points + band_points + band_fill_points
              + fringe_points + middle_points + upper_points + stray_points)
pred, actual, conf = (np.array(v, dtype=float) for v in zip(*all_points))
order = np.argsort(conf, kind="stable")  # most confident drawn last

FONT = "DejaVu Sans"

fig = go.Figure()
fig.add_trace(go.Scatter(
    x=[0, 1], y=[0, 1], mode="lines",
    line=dict(color="black", width=1.5), hoverinfo="skip",
))
fig.add_trace(go.Scatter(
    x=pred[order], y=actual[order], mode="markers",
    marker=dict(
        size=8, color=conf[order], colorscale=colorscale, cmin=0, cmax=100,
        line=dict(width=0),
        colorbar=dict(
            x=1.015, xanchor="left", xpad=0, y=0.5, yanchor="middle", ypad=0,
            len=1, lenmode="fraction", thickness=19,
            outlinewidth=6, outlinecolor="black",
            tickvals=cbar_vals, ticktext=cbar_text, ticks="outside", ticklen=14, tickwidth=6,
            tickcolor="black", ticklabeloverflow="allow",
            tickfont=dict(family=FONT, size=58, color="black"),
        ),
    ),
    hoverinfo="skip",
))

axis_style = dict(
    range=[-0.01, 1.01], tickvals=tick_vals, ticktext=tick_text,
    ticks="outside", ticklen=15, tickwidth=6, tickcolor="black",
    showline=True, linewidth=6, linecolor="black", mirror=True,
    showgrid=False, zeroline=False, ticklabeloverflow="allow",
    tickfont=dict(family=FONT, size=58, color="black"),
)
fig.update_xaxes(**axis_style)
fig.update_yaxes(**axis_style)

fig.update_layout(
    width=1612, height=1320,
    margin=dict(l=212, r=268, t=15, b=175, autoexpand=False),
    plot_bgcolor="white", paper_bgcolor="white",
    showlegend=False,
    font=dict(family=FONT, color="black"),
    annotations=[
        dict(text="Predicted stoichiometry", xref="paper", yref="paper",
             x=0.5, y=-0.1235, xanchor="center", yanchor="middle",
             showarrow=False, font=dict(family=FONT, size=74)),
        dict(text="Actual stoichiometry", xref="paper", yref="paper",
             x=-0.168, y=0.5, xanchor="center", yanchor="middle", textangle=-90,
             showarrow=False, font=dict(family=FONT, size=74)),
        dict(text="Confidence percentile", xref="paper", yref="paper",
             x=1.204, y=0.5, xanchor="center", yanchor="middle", textangle=-90,
             showarrow=False, font=dict(family=FONT, size=74)),
        dict(text=str(cbar_vals[-1]), xref="paper", yref="paper",
             x=1.059, y=0.9938, xanchor="left", yanchor="middle",
             showarrow=False, font=dict(family=FONT, size=58)),
        dict(text=f"<i>R</i><sup>2</sup> = {r_squared:.4f}", xref="paper", yref="paper",
             x=0.979, y=0.017, xanchor="right", yanchor="bottom",
             showarrow=False, font=dict(family=FONT, size=60)),
    ],
)

fig.write_html("out.html")
